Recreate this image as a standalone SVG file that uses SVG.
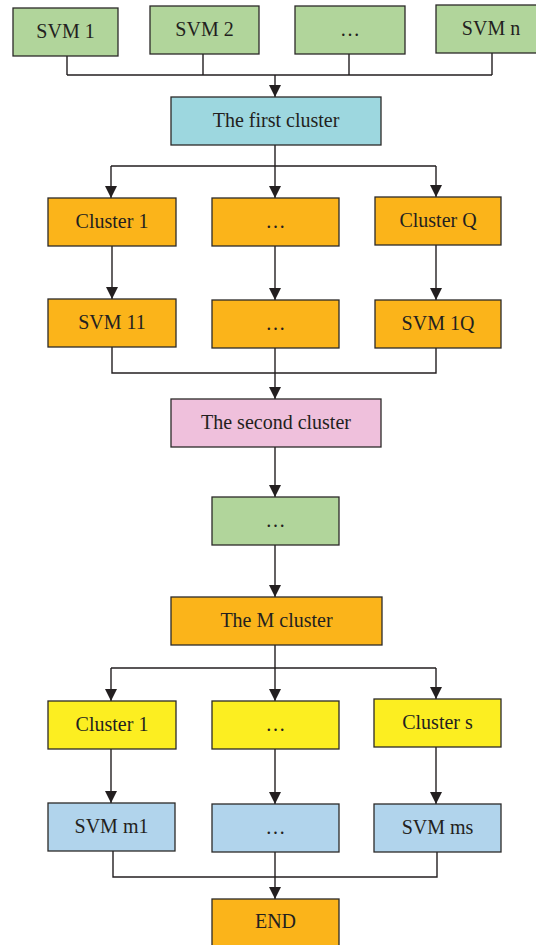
<svg xmlns="http://www.w3.org/2000/svg" width="536" height="945" viewBox="0 0 536 945">
<defs>
<style>
.b{stroke:#2b2a29;stroke-width:1.3}
.g{fill:#b1d59b}
.c{fill:#9dd7df}
.o{fill:#fbb41a}
.p{fill:#efc0dc}
.y{fill:#fcee21}
.l{fill:#b1d4ec}
text{font-family:"Liberation Serif","Times New Roman",serif;font-size:20px;fill:#231f20;text-anchor:middle}
.w{fill:none;stroke:#231f20;stroke-width:1.4}
.a{marker-end:url(#ah)}
</style>
<marker id="ah" viewBox="0 0 12 12" refX="12" refY="6" markerWidth="12" markerHeight="12" markerUnits="userSpaceOnUse" orient="auto">
<path d="M0,0 L12,6 L0,12 z" fill="#231f20"/>
</marker>
</defs>
<rect width="536" height="945" fill="#ffffff"/>
<g id="connectors">
<path class="w" d="M67,56 V75 M203,54 V75 M349,54 V75 M492,53 V75 M67,75 H492"/>
<path class="w a" d="M275,75 V97"/>
<path class="w" d="M275,145 V166 M111,166 H436"/>
<path class="w a" d="M111,166 V198"/>
<path class="w a" d="M275,166 V198"/>
<path class="w a" d="M436,166 V197"/>
<path class="w a" d="M112,246 V299"/>
<path class="w a" d="M275,246 V300"/>
<path class="w a" d="M436,245 V300"/>
<path class="w" d="M112,347 V373 H436 V348"/>
<path class="w a" d="M275,348 V399"/>
<path class="w a" d="M275,447 V497"/>
<path class="w a" d="M275,545 V597"/>
<path class="w" d="M275,645 V668 M111,668 H436"/>
<path class="w a" d="M111,668 V701"/>
<path class="w a" d="M275,668 V701"/>
<path class="w a" d="M436,668 V699"/>
<path class="w a" d="M111,749 V803"/>
<path class="w a" d="M275,749 V804"/>
<path class="w a" d="M436,747 V804"/>
<path class="w" d="M113,851 V877 H437 V852"/>
<path class="w a" d="M275,852 V899"/>
</g>
<g id="svm1"><rect class="b g" x="13" y="8" width="105" height="48"/><text x="65.5" y="38">SVM 1</text></g>
<g id="svm2"><rect class="b g" x="150" y="6" width="109" height="48"/><text x="204.5" y="36">SVM 2</text></g>
<g id="svmdots"><rect class="b g" x="295" y="6" width="110" height="48"/><text x="350" y="36">…</text></g>
<g id="svmn"><rect class="b g" x="436" y="5" width="112" height="48"/><text x="491" y="35">SVM n</text></g>
<g id="first"><rect class="b c" x="171" y="97" width="210" height="48"/><text x="276" y="127">The first cluster</text></g>
<g id="c1"><rect class="b o" x="48" y="198" width="128" height="48"/><text x="112" y="228">Cluster 1</text></g>
<g id="cdots"><rect class="b o" x="212" y="198" width="127" height="48"/><text x="275.5" y="228">…</text></g>
<g id="cq"><rect class="b o" x="375" y="197" width="126" height="48"/><text x="438" y="227">Cluster Q</text></g>
<g id="s11"><rect class="b o" x="48" y="299" width="128" height="48"/><text x="112" y="329">SVM 11</text></g>
<g id="sdots"><rect class="b o" x="212" y="300" width="127" height="48"/><text x="275.5" y="330">…</text></g>
<g id="s1q"><rect class="b o" x="375" y="300" width="126" height="48"/><text x="438" y="330">SVM 1Q</text></g>
<g id="second"><rect class="b p" x="171" y="399" width="210" height="48"/><text x="276" y="429">The second cluster</text></g>
<g id="mid"><rect class="b g" x="212" y="497" width="127" height="48"/><text x="275.5" y="527">…</text></g>
<g id="mcl"><rect class="b o" x="171" y="597" width="211" height="48"/><text x="276.5" y="627">The M cluster</text></g>
<g id="k1"><rect class="b y" x="48" y="701" width="128" height="48"/><text x="112" y="731">Cluster 1</text></g>
<g id="kdots"><rect class="b y" x="212" y="701" width="127" height="48"/><text x="275.5" y="731">…</text></g>
<g id="ks"><rect class="b y" x="374" y="699" width="127" height="48"/><text x="437.5" y="729">Cluster s</text></g>
<g id="m1"><rect class="b l" x="48" y="803" width="127" height="48"/><text x="111.5" y="833">SVM m1</text></g>
<g id="mdots"><rect class="b l" x="212" y="804" width="127" height="48"/><text x="275.5" y="834">…</text></g>
<g id="ms"><rect class="b l" x="374" y="804" width="127" height="48"/><text x="437.5" y="834">SVM ms</text></g>
<g id="end"><rect class="b o" x="212" y="899" width="127" height="56"/><text x="275.5" y="928">END</text></g>
</svg>
